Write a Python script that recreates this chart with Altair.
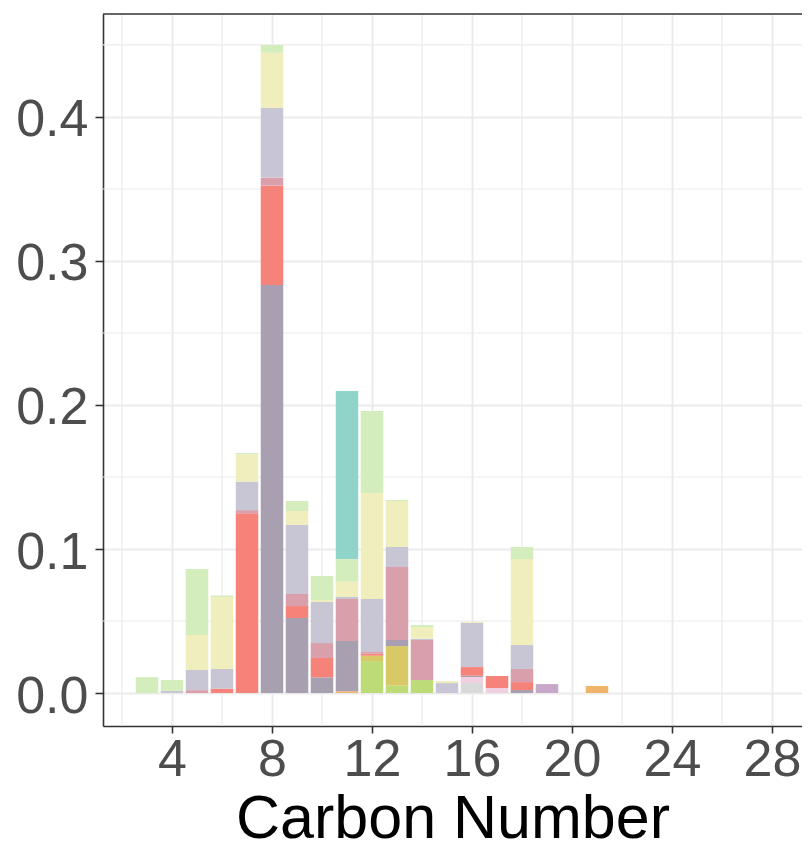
import altair as alt
import pandas as pd

# Carbon numbers that carry bars (20 has none)
carbon = [3, 4, 5, 6, 7, 8, 9, 10, 11, 12, 13, 14, 15, 16, 17, 18, 19, 21]

# Fractions per group, one entry per carbon number above (stack order bottom -> top)
grp_a = [0, 0, 0, 0, 0, 0, 0, 0, 0, 0, 0, 0, 0, 0.0069, 0, 0, 0, 0]
grp_b = [0, 0, 0, 0, 0, 0, 0, 0, 0, 0, 0, 0, 0, 0.0042, 0.0035, 0, 0, 0]
grp_c = [0, 0, 0, 0, 0, 0, 0, 0, 0.0012, 0, 0, 0, 0, 0, 0, 0, 0, 0.0049]
grp_d = [0, 0, 0, 0, 0, 0, 0, 0, 0, 0.0222, 0.0051, 0.0090, 0, 0, 0, 0, 0, 0]
grp_e = [0, 0, 0, 0, 0, 0, 0, 0, 0, 0.0037, 0.0275, 0, 0, 0, 0, 0, 0, 0]
grp_f = [0, 0, 0, 0, 0, 0.2833, 0.0521, 0.0109, 0.0349, 0, 0.0042, 0, 0, 0.0009, 0, 0.0021, 0, 0]
grp_g = [0, 0, 0, 0.0030, 0.1248, 0.0690, 0.0083, 0.0134, 0, 0.0014, 0, 0, 0, 0.0060, 0.0083, 0.0055, 0, 0]
grp_h = [0, 0, 0.0020, 0, 0.0022, 0.0056, 0.0084, 0.0104, 0.0292, 0.0012, 0.0507, 0.0278, 0, 0, 0, 0.0091, 0, 0]
grp_i = [0, 0, 0, 0, 0, 0, 0, 0, 0, 0, 0, 0, 0, 0, 0, 0, 0.0062, 0]
grp_j = [0, 0.0015, 0.0140, 0.0137, 0.0198, 0.0483, 0.0479, 0.0285, 0.0014, 0.0368, 0.0139, 0.0009, 0.0069, 0.0308, 0, 0.0166, 0, 0]
grp_k = [0, 0, 0.0243, 0.0500, 0.0190, 0.0385, 0.0097, 0.0014, 0.0106, 0.0736, 0.0319, 0.0081, 0.0014, 0.0007, 0, 0.0597, 0, 0]
grp_l = [0.0110, 0.0075, 0.0458, 0.0010, 0.0009, 0.0053, 0.0069, 0.0167, 0.0157, 0.0569, 0.0007, 0.0014, 0, 0, 0, 0.0084, 0, 0]
grp_m = [0, 0, 0, 0, 0, 0, 0, 0, 0.1167, 0, 0, 0, 0, 0, 0, 0, 0, 0]

group_names = ["Group A", "Group B", "Group C", "Group D", "Group E", "Group F", "Group G",
               "Group H", "Group I", "Group J", "Group K", "Group L", "Group M"]
group_values = [grp_a, grp_b, grp_c, grp_d, grp_e, grp_f, grp_g,
                grp_h, grp_i, grp_j, grp_k, grp_l, grp_m]
group_colors = ["#d9d9d9", "#f0d0e0", "#f0b36a", "#bddc78", "#d9c866", "#a8a0b1", "#f5837a",
                "#d9a0ab", "#c8a8c8", "#c8c6d4", "#f0eebc", "#d4edbc", "#90d3c8"]

x_major = [4, 8, 12, 16, 20, 24, 28]
x_minor = [2, 6, 10, 14, 18, 22, 26]
y_major = [0.0, 0.1, 0.2, 0.3, 0.4]
y_minor = [0.05, 0.15, 0.25, 0.35, 0.45]

rows = []
for gi, (name, vals) in enumerate(zip(group_names, group_values)):
    for c, v in zip(carbon, vals):
        if v > 0:
            rows.append({"carbon": c, "group": name, "value": v, "order": gi})
df = pd.DataFrame(rows)

FONT = "Liberation Sans"
GRID = "#ebebeb"
xscale = alt.Scale(domain=[1.24, 29.2], nice=False, zero=False)
yscale = alt.Scale(domain=[-0.0229, 0.4715], nice=False, zero=False)

xaxis = alt.Axis(values=x_major, format="d", grid=True, gridColor=GRID, gridWidth=2,
                 domainColor="#333333", domainWidth=1.6, tickColor="#333333",
                 tickWidth=1.6, tickSize=7, labelFontSize=52, labelColor="#4d4d4d",
                 labelFont=FONT, labelPadding=1, labelFlush=False, labelOverlap=False,
                 titleFont=FONT, titleFontSize=61, titleFontWeight="normal",
                 titleColor="#000000", titleBaseline="alphabetic", titleY=111)
yaxis = alt.Axis(values=y_major, format=".1f", grid=True, gridColor=GRID, gridWidth=2,
                 domainColor="#333333", domainWidth=1.6, tickColor="#333333",
                 tickWidth=1.6, tickSize=8, labelFontSize=52, labelColor="#4d4d4d",
                 labelFont=FONT, labelPadding=7, labelOffset=3, labelFlush=False,
                 labelOverlap=False)
XTITLE = "Carbon Number"

minor_x = alt.Chart(pd.DataFrame({"v": x_minor})).mark_rule(
    color=GRID, strokeWidth=1.2).encode(
    x=alt.X("v:Q", scale=xscale, axis=xaxis, title=XTITLE))
minor_y = alt.Chart(pd.DataFrame({"v": y_minor})).mark_rule(
    color=GRID, strokeWidth=1.2).encode(
    y=alt.Y("v:Q", scale=yscale, axis=yaxis, title=None))

bars = alt.Chart(df).transform_calculate(
    lo="datum.carbon - 0.45", hi="datum.carbon + 0.45"
).transform_stack(
    stack="value", groupby=["carbon"], as_=["y0", "y1"],
    sort=[alt.SortField("order", order="ascending")]
).mark_bar().encode(
    x=alt.X("lo:Q", scale=xscale, axis=xaxis, title=XTITLE),
    x2="hi:Q",
    y=alt.Y("y0:Q", scale=yscale, axis=yaxis, title=None),
    y2="y1:Q",
    color=alt.Color("group:N", scale=alt.Scale(domain=group_names, range=group_colors),
                    legend=None),
)

top_border = alt.Chart(alt.Data(values=[{"a": 1}])).mark_rule(
    color="#333333", strokeWidth=1.6).encode(
    y=alt.value(0), x=alt.value(0), x2=alt.value(699))

chart = alt.layer(minor_x, minor_y, bars, top_border).properties(
    width=699, height=712,
    padding={"left": 95, "top": 6, "right": 0, "bottom": 113},
    autosize=alt.AutoSizeParams(type="none"),
).configure_view(stroke=None)

chart.save("out.html", embed_options={"renderer": "svg", "actions": False})
